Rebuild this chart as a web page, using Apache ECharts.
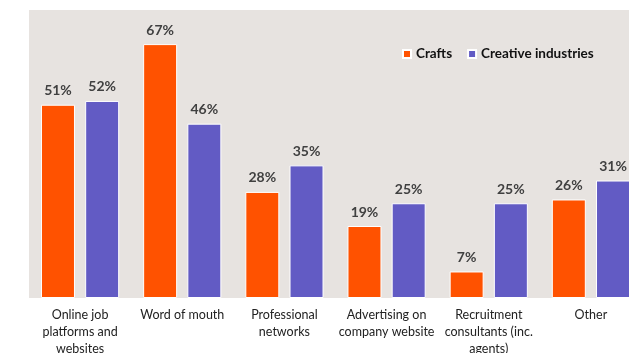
<!DOCTYPE html>
<html>
<head>
<meta charset="utf-8">
<script src="https://cdn.jsdelivr.net/npm/echarts@6/dist/echarts.min.js"></script>
<style>
  html, body { margin: 0; padding: 0; background: #ffffff; overflow: hidden; }
  #chart { width: 642px; height: 353px; }
</style>
</head>
<body>
<div id="chart"></div>
<script>
// Channels used to find work, share of respondents (%)
const categories = [
  'Online job\nplatforms and\nwebsites',
  'Word of mouth',
  'Professional\nnetworks',
  'Advertising on\ncompany website',
  'Recruitment\nconsultants (inc.\nagents)',
  'Other'
];
const crafts = [51, 67, 28, 19, 7, 26];
const creative = [52, 46, 35, 25, 25, 31];
const seriesNames = ['Crafts', 'Creative industries'];

const FONT = 'Lato, "Open Sans", "Noto Sans", sans-serif';

const labelStyle = {
  show: true,
  position: 'top',
  distance: 7,
  formatter: p => p.value + '%',
  color: '#404040',
  fontWeight: 'bold',
  fontSize: 14,
  fontFamily: FONT
};

const chart = echarts.init(document.getElementById('chart'), null, { renderer: 'canvas' });
chart.setOption({
  animation: false,
  backgroundColor: '#ffffff',
  grid: {
    left: 29, right: 0, top: 10, bottom: 55,
    outerBoundsMode: 'none',
    containLabel: false,
    show: true, backgroundColor: '#e7e3e0', borderWidth: 0
  },
  legend: {
    top: 42, left: 397,
    itemWidth: 8, itemHeight: 8, itemGap: 15,
    icon: 'rect',
    textStyle: { color: '#111', fontWeight: 'bold', fontSize: 13.5, fontFamily: FONT },
    data: seriesNames
  },
  xAxis: {
    type: 'category',
    data: categories,
    axisLine: { show: false },
    axisTick: { show: false },
    axisLabel: {
      interval: 0, margin: 8, color: '#222', fontSize: 12.5, lineHeight: 17,
      fontFamily: FONT
    }
  },
  yAxis: {
    type: 'value', min: 0, max: 76,
    show: false, splitLine: { show: false }
  },
  series: [
    {
      name: seriesNames[0], type: 'bar', data: crafts,
      barWidth: 34, barGap: '30%',
      itemStyle: { color: '#ff5200', borderColor: '#ffffff', borderWidth: 1 },
      label: labelStyle
    },
    {
      name: seriesNames[1], type: 'bar', data: creative,
      barWidth: 34,
      itemStyle: { color: '#625bc4', borderColor: '#ffffff', borderWidth: 1 },
      label: labelStyle
    }
  ]
});
</script>
</body>
</html>
